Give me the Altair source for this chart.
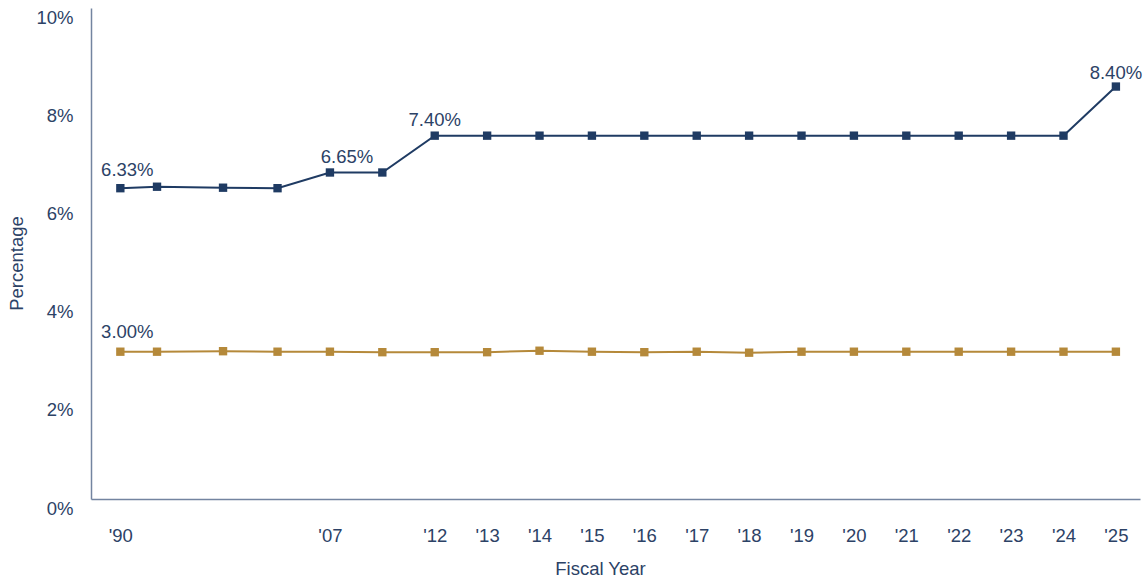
import altair as alt
import pandas as pd

# Position index along the fiscal-year axis (unlabelled intermediate periods included)
period = [0, 0.7, 1.96, 3, 4, 5, 6, 7, 8, 9, 10, 11, 12, 13, 14, 15, 16, 17, 18, 19]
blue_vals = [6.33, 6.36, 6.34, 6.33, 6.65, 6.65, 7.40, 7.40, 7.40, 7.40, 7.40, 7.40,
             7.40, 7.40, 7.40, 7.40, 7.40, 7.40, 7.40, 8.40]
tan_vals = [3.00, 3.00, 3.01, 3.00, 3.00, 2.99, 2.99, 2.99, 3.02, 3.00, 2.99, 3.00,
            2.98, 3.00, 3.00, 3.00, 3.00, 3.00, 3.00, 3.00]
tick_pos = [0, 4, 6, 7, 8, 9, 10, 11, 12, 13, 14, 15, 16, 17, 18, 19]
tick_labels = ["'90", "'07", "'12", "'13", "'14", "'15", "'16", "'17", "'18", "'19",
               "'20", "'21", "'22", "'23", "'24", "'25"]
y_ticks = [0, 2, 4, 6, 8, 10]

BLUE = "#1f3b63"
TAN = "#b5893a"
TXT = "#2c4266"
AXIS = "#7384a0"
FONT = "Liberation Sans"
FS = 18.5

df = pd.DataFrame({
    "period": period * 2,
    "value": blue_vals + tan_vals,
    "series": ["Blue"] * len(period) + ["Tan"] * len(period),
})

label_expr = "".join(
    f"datum.value == {p} ? \"{l}\" : " for p, l in zip(tick_pos, tick_labels)
) + "''"

x_enc = alt.X(
    "period:Q",
    scale=alt.Scale(domain=[-0.56, 19.46], nice=False, zero=False),
    axis=alt.Axis(
        values=tick_pos, labelExpr=label_expr, ticks=False, grid=False,
        domainColor=AXIS, domainWidth=1.5, labelColor=TXT, labelFont=FONT,
        labelFontSize=FS, labelPadding=27, labelBaseline="top",
        title="Fiscal Year", titleFont=FONT, titleFontSize=FS, titleColor=TXT,
        titleFontWeight="normal", titleX=509, titleY=69, titleBaseline="middle",
        titleAlign="center", labelFlush=False, labelOverlap=False,
    ),
)
y_enc = alt.Y(
    "value:Q",
    scale=alt.Scale(domain=[0, 10], nice=False),
    axis=alt.Axis(
        values=y_ticks, labelExpr="datum.value + '%'", ticks=False, grid=False,
        domainColor=AXIS, domainWidth=1.5, labelColor=TXT, labelFont=FONT,
        labelFontSize=FS, labelPadding=18, labelBaseline="top",
        title="Percentage", titleFont=FONT, titleFontSize=FS, titleColor=TXT,
        titleFontWeight="normal", titleX=-75, titleY=255, titleBaseline="middle",
        titleAlign="center", labelFlush=False,
    ),
)
color = alt.Color("series:N", scale=alt.Scale(domain=["Blue", "Tan"], range=[BLUE, TAN]),
                  legend=None)

base = alt.Chart(df).encode(x=x_enc, y=y_enc, color=color)
lines = base.mark_line(strokeWidth=2)
points = base.mark_point(shape="square", filled=True, size=70, opacity=1)

# data labels
lab_df = pd.DataFrame({
    "period": [period[0], period[4], period[6], period[19], period[0]],
    "value": [blue_vals[0], blue_vals[4], blue_vals[6], blue_vals[19], tan_vals[0]],
    "text": ["6.33%", "6.65%", "7.40%", "8.40%", "3.00%"],
})
dxs = [7, 17, 0, 0, 7]
dys = [-18, -15, -16, -14, -20]
texts = []
for i in range(len(lab_df)):
    texts.append(
        alt.Chart(lab_df.iloc[[i]]).mark_text(
            font=FONT, fontSize=FS, color=TXT, dx=dxs[i], dy=dys[i], baseline="middle"
        ).encode(x=alt.X("period:Q"), y=alt.Y("value:Q"), text="text:N")
    )

chart = alt.layer(lines, points, *texts).properties(
    width=1049, height=491,
    background="white",
    autosize=alt.AutoSizeParams(type="none"),
    padding={"left": 91, "top": 8, "right": 7, "bottom": 83},
).configure_view(stroke=None, strokeWidth=0)

chart.save("out.html", embed_options={"renderer": "svg", "actions": False})
